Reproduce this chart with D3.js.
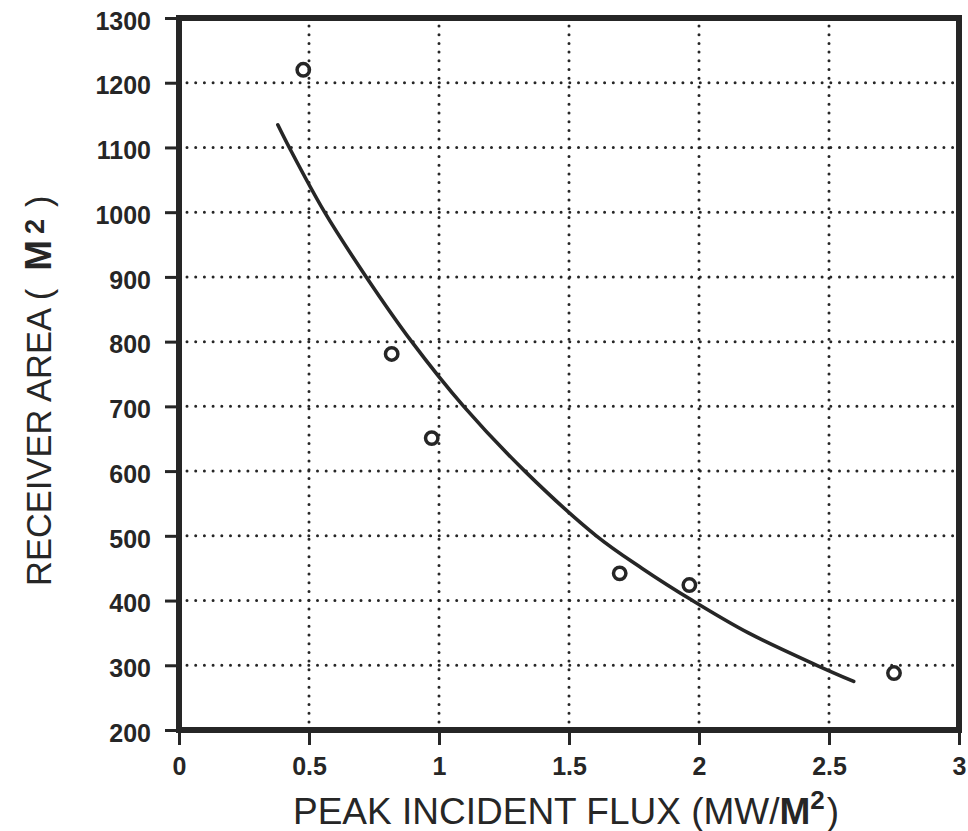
<!DOCTYPE html>
<html>
<head>
<meta charset="utf-8">
<script src="https://cdn.jsdelivr.net/npm/d3@7"></script>
<style>
  html, body { margin: 0; padding: 0; background: #fff; }
  svg { display: block; }
</style>
</head>
<body>
<svg id="chart" width="968" height="831"></svg>
<script>
// Measured receiver areas versus peak incident flux
const fluxValues = [0.478, 0.818, 0.972, 1.695, 1.963, 2.75];
const areaValues = [1220, 781, 651, 442, 424, 288];

// Fitted trend curve, sampled along its length
const fitFlux = [0.38, 0.424, 0.56, 0.72, 0.895, 1.095, 1.33, 1.605, 1.78, 1.975, 2.19, 2.453, 2.595];
const fitArea = [1135, 1100, 1000, 900, 800, 700, 600, 500, 450, 400, 350, 300, 275];

// Axis ticks
const xTicks = [0, 0.5, 1, 1.5, 2, 2.5, 3];
const xTickLabels = ["0", "0.5", "1", "1.5", "2", "2.5", "3"];
const yTicks = [200, 300, 400, 500, 600, 700, 800, 900, 1000, 1100, 1200, 1300];
const xGrid = [0.5, 1, 1.5, 2, 2.5];
const yGrid = [300, 400, 500, 600, 700, 800, 900, 1000, 1100, 1200];

const ink = "#262626";
const plotLeft = 179, plotRight = 959, plotTop = 18, plotBottom = 730;

const svg = d3.select("#chart");
const x = d3.scaleLinear().domain([0, 3]).range([plotLeft, plotRight]);
const y = d3.scaleLinear().domain([200, 1300]).range([plotBottom, plotTop]);

// Dotted grid
const grid = svg.append("g")
  .attr("stroke", ink)
  .attr("stroke-width", 3)
  .attr("stroke-linecap", "round")
  .attr("stroke-dasharray", "0,8.7");
grid.selectAll("line.h").data(yGrid).join("line")
  .attr("class", "h")
  .attr("x1", plotLeft + 8).attr("x2", plotRight - 4)
  .attr("y1", d => y(d)).attr("y2", d => y(d));
grid.selectAll("line.v").data(xGrid).join("line")
  .attr("class", "v")
  .attr("y1", plotBottom - 8).attr("y2", plotTop + 6)
  .attr("x1", d => x(d)).attr("x2", d => x(d));

// Left axis
const yAxis = d3.axisLeft(y).tickValues(yTicks).tickSize(14).tickPadding(14)
  .tickFormat(d3.format("d"));
const gy = svg.append("g").attr("transform", `translate(${plotLeft},0)`).call(yAxis);
gy.select(".domain").remove();
gy.selectAll(".tick line").attr("stroke", ink).attr("stroke-width", 3);
gy.selectAll(".tick text")
  .attr("fill", ink)
  .attr("font-family", "'Liberation Sans', Arial, sans-serif")
  .attr("font-weight", "bold")
  .attr("font-size", 25)
  .attr("dy", "0.45em");

// Bottom axis
const xAxis = d3.axisBottom(x).tickValues(xTicks).tickSize(15).tickPadding(12)
  .tickFormat((d, i) => xTickLabels[i]);
const gx = svg.append("g").attr("transform", `translate(0,${plotBottom})`).call(xAxis);
gx.select(".domain").remove();
gx.selectAll(".tick line").attr("stroke", ink).attr("stroke-width", 3);
gx.selectAll(".tick text")
  .attr("fill", ink)
  .attr("font-family", "'Liberation Sans', Arial, sans-serif")
  .attr("font-weight", "bold")
  .attr("font-size", 25);

// Plot frame
svg.append("rect")
  .attr("x", plotLeft).attr("y", plotTop)
  .attr("width", plotRight - plotLeft).attr("height", plotBottom - plotTop)
  .attr("fill", "none")
  .attr("stroke", ink)
  .attr("stroke-width", 6);

// Fitted curve
const fitPts = fitFlux.map((f, i) => [f, fitArea[i]]);
svg.append("path")
  .datum(fitPts)
  .attr("fill", "none")
  .attr("stroke", ink)
  .attr("stroke-width", 3.6)
  .attr("stroke-linecap", "round")
  .attr("d", d3.line().x(d => x(d[0])).y(d => y(d[1])).curve(d3.curveCatmullRom.alpha(0.5)));

// Data points
svg.append("g").selectAll("circle")
  .data(fluxValues.map((f, i) => [f, areaValues[i]]))
  .join("circle")
  .attr("cx", d => x(d[0]))
  .attr("cy", d => y(d[1]))
  .attr("r", 6.2)
  .attr("fill", "none")
  .attr("stroke", ink)
  .attr("stroke-width", 3.5);

// Axis titles
const xTitle = svg.append("text")
  .attr("x", 293).attr("y", 824)
  .attr("fill", ink)
  .attr("font-family", "'Liberation Sans', Arial, sans-serif")
  .attr("font-size", 37);
xTitle.append("tspan").text("PEAK INCIDENT FLUX (MW/");
xTitle.append("tspan").attr("font-weight", "bold").text("M");
xTitle.append("tspan").attr("font-weight", "bold").attr("font-size", 26).attr("dy", -15).text("2");
xTitle.append("tspan").attr("dx", 2).attr("dy", 15).text(")");

const yTitle = svg.append("text")
  .attr("transform", "translate(51,586) rotate(-90)")
  .attr("fill", ink)
  .attr("font-family", "'Liberation Sans', Arial, sans-serif")
  .attr("font-size", 34.5);
yTitle.append("tspan").text("RECEIVER AREA (");
yTitle.append("tspan").attr("dx", 18).attr("font-weight", "bold").attr("font-size", 37).text("M");
yTitle.append("tspan").attr("dx", 6).attr("font-weight", "bold").attr("font-size", 27).attr("dy", -7).text("2");
yTitle.append("tspan").attr("dx", 12).attr("dy", 7).text(")");
</script>
</body>
</html>
